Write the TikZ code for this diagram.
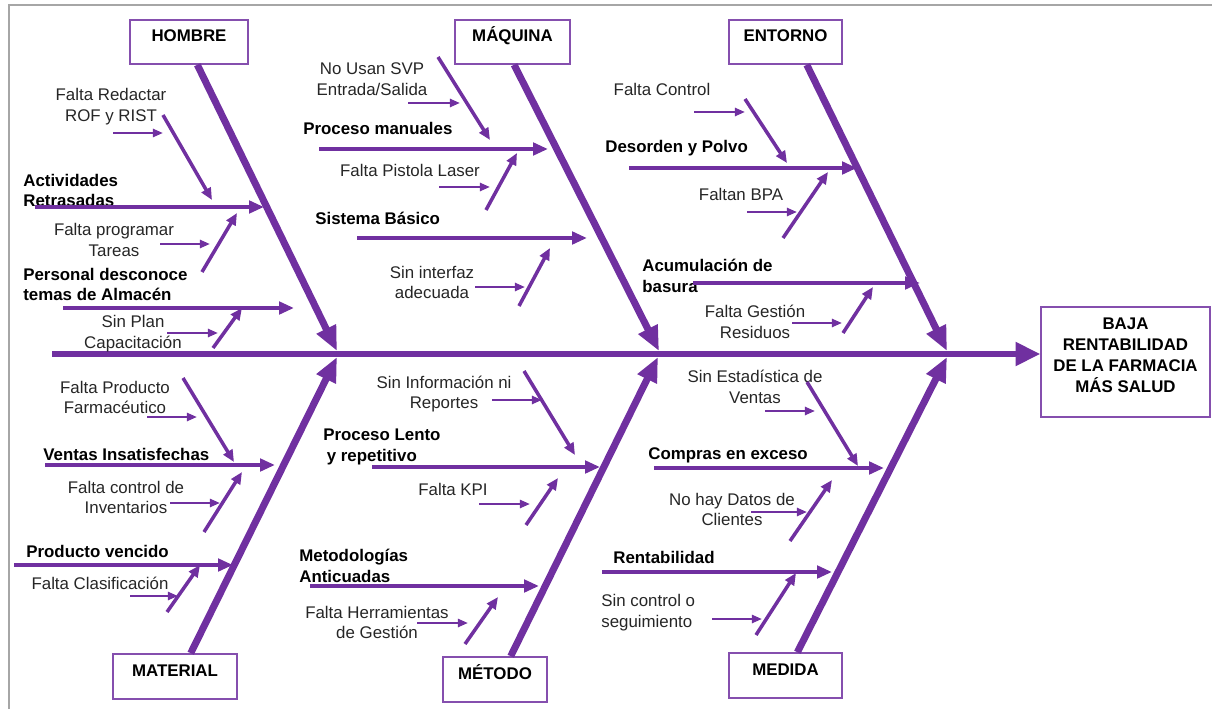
\documentclass[tikz,border=0pt]{standalone}
\usepackage{fontspec}
\setmainfont{Liberation Sans}
\usetikzlibrary{arrows.meta}
\definecolor{violeta}{HTML}{7030A0}

\begin{document}
\begin{tikzpicture}[x=0.02cm, y=-0.02cm,
		font=\fontsize{9.6}{11.9}\selectfont,
		catbox/.style={rectangle, draw=violeta!85, line width=0.9pt, minimum height=0.88cm,
			inner sep=0pt, font=\fontsize{9.6}{11.9}\selectfont\bfseries, text height=7pt, text depth=7pt},
		effbox/.style={rectangle, draw=violeta!85, line width=0.9pt, minimum width=3.38cm,
			minimum height=2.2cm},
		efftxt/.style={inner sep=0pt, align=center, font=\fontsize{9.6}{11.9}\selectfont\bfseries},
		lbl/.style={inner sep=0pt, align=center, text=black!85},
		blbl/.style={inner sep=0pt, anchor=west, align=left, font=\fontsize{9.6}{11.9}\selectfont\bfseries},
		spine/.style={violeta, line width=3.1pt, -{Triangle[length=14pt,width=13pt]}},
		bone/.style={violeta, line width=4pt, -{Triangle[length=14pt,width=11.5pt]}},
		cause/.style={violeta, line width=2.5pt, -{Triangle[length=8.5pt,width=7pt]}},
		sub/.style={violeta, line width=2pt, -{Triangle[length=6.8pt,width=5.8pt]}},
		feed/.style={violeta, line width=1.4pt, -{Triangle[length=5.8pt,width=4.6pt]}}]

	\useasboundingbox (0,0) rectangle (1212,709);
	\draw[gray!70, line width=1.1pt] (9,709) -- (9,5) -- (1212,5);

	% categorias y efecto
	\node[catbox, minimum width=2.36cm] (hombre) at (189,42) {HOMBRE};
	\node[catbox, minimum width=2.30cm] (maquina) at (512.5,42) {MÁQUINA};
	\node[catbox, minimum width=2.26cm] (entorno) at (785.5,42) {ENTORNO};
	\node[catbox, minimum width=2.48cm, minimum height=0.9cm] (material) at (175,676.5) {MATERIAL};
	\node[catbox, minimum width=2.08cm, minimum height=0.9cm] (metodo) at (495,679.5) {MÉTODO};
	\node[catbox, minimum width=2.26cm, minimum height=0.9cm] (medida) at (785.5,675.5) {MEDIDA};
	\node[effbox] (efecto) at (1125.5,362) {};
	\node[efftxt] (efecto-txt) at (1125.5,355) {BAJA\\RENTABILIDAD\\DE LA FARMACIA\\MÁS SALUD};

	% espina
	\coordinate (s0) at (52,354);
	\draw[spine] (s0) -- (s0 -| efecto.west);

	\coordinate (hombre-t) at (337,351);
	\coordinate (maquina-t) at (659,351);
	\coordinate (entorno-t) at (947,351);
	\coordinate (material-t) at (337,357);
	\coordinate (metodo-t) at (658,357);
	\coordinate (medida-t) at (947,357);
	\draw[bone] (hombre.-70) -- (hombre-t);
	\draw[bone] (maquina.-86) -- (maquina-t);
	\draw[bone] (entorno.-47) -- (entorno-t);
	\draw[bone] (material.56) -- (material-t);
	\draw[bone] (metodo.56) -- (metodo-t);
	\draw[bone] (medida.63) -- (medida-t);

	% HOMBRE
	\node[blbl] (actv) at (23,190.5) {Actividades\\Retrasadas};
	\coordinate (actv-a) at (35,207); \coordinate (actv-b) at (264,207);
	\draw[cause] (actv-a) -- (actv-b);
	\node[blbl] (pers) at (23,284.5) {Personal desconoce\\temas de Almacén};
	\coordinate (pers-a) at (63,308); \coordinate (pers-b) at (294,308);
	\draw[cause] (pers-a) -- (pers-b);
	\node[lbl] (rof) at (111,106.5) {Falta Redactar\\ROF y RIST};
	\coordinate (rof-a) at (113,133); \coordinate (rof-b) at (163,133);
	\coordinate (rof-c) at (163,115); \coordinate (rof-d) at (212,200);
	\draw[feed] (rof-a) -- (rof-b);
	\draw[sub] (rof-c) -- (rof-d);
	\node[lbl] (prog) at (114,240) {Falta programar\\Tareas};
	\coordinate (prog-a) at (160,244); \coordinate (prog-b) at (210,244);
	\coordinate (prog-c) at (202,272); \coordinate (prog-d) at (237,213);
	\draw[feed] (prog-a) -- (prog-b);
	\draw[sub] (prog-c) -- (prog-d);
	\node[lbl] (plan) at (133,334) {Sin Plan\\Capacitación};
	\coordinate (plan-a) at (167,333); \coordinate (plan-b) at (218,333);
	\coordinate (plan-c) at (213,348); \coordinate (plan-d) at (242,308);
	\draw[feed] (plan-a) -- (plan-b);
	\draw[sub] (plan-c) -- (plan-d);

	% MAQUINA
	\node[lbl] (svp) at (372,79) {No Usan SVP\\Entrada/Salida};
	\coordinate (svp-a) at (408,103); \coordinate (svp-b) at (460,103);
	\coordinate (svp-c) at (438,57); \coordinate (svp-d) at (490,140);
	\draw[feed] (svp-a) -- (svp-b);
	\draw[sub] (svp-c) -- (svp-d);
	\node[blbl] (manu) at (303,128) {Proceso manuales};
	\coordinate (manu-a) at (319,149); \coordinate (manu-b) at (548,149);
	\draw[cause] (manu-a) -- (manu-b);
	\node[lbl] (pist) at (410,170) {Falta Pistola Laser};
	\coordinate (pist-a) at (439,187); \coordinate (pist-b) at (490,187);
	\coordinate (pist-c) at (486,210); \coordinate (pist-d) at (517,153);
	\draw[feed] (pist-a) -- (pist-b);
	\draw[sub] (pist-c) -- (pist-d);
	\node[blbl] (sist) at (315,218) {Sistema Básico};
	\coordinate (sist-a) at (357,238); \coordinate (sist-b) at (587,238);
	\draw[cause] (sist-a) -- (sist-b);
	\node[lbl] (intf) at (432,282.5) {Sin interfaz\\adecuada};
	\coordinate (intf-a) at (475,287); \coordinate (intf-b) at (525,287);
	\coordinate (intf-c) at (519,306); \coordinate (intf-d) at (550,248);
	\draw[feed] (intf-a) -- (intf-b);
	\draw[sub] (intf-c) -- (intf-d);

	% ENTORNO
	\node[lbl] (ctrl) at (662,89) {Falta Control};
	\coordinate (ctrl-a) at (694,112); \coordinate (ctrl-b) at (745,112);
	\coordinate (ctrl-c) at (745,99); \coordinate (ctrl-d) at (787,163);
	\draw[feed] (ctrl-a) -- (ctrl-b);
	\draw[sub] (ctrl-c) -- (ctrl-d);
	\node[blbl] (deso) at (605,148) {Desorden y Polvo};
	\coordinate (deso-a) at (629,168); \coordinate (deso-b) at (857,168);
	\draw[cause] (deso-a) -- (deso-b);
	\node[lbl] (bpa) at (741,194) {Faltan BPA};
	\coordinate (bpa-a) at (747,212); \coordinate (bpa-b) at (797,212);
	\coordinate (bpa-c) at (783,238); \coordinate (bpa-d) at (828,172);
	\draw[feed] (bpa-a) -- (bpa-b);
	\draw[sub] (bpa-c) -- (bpa-d);
	\node[blbl] (basu) at (642,275.5) {Acumulación de\\basura};
	\coordinate (basu-a) at (693,283); \coordinate (basu-b) at (920,283);
	\draw[cause] (basu-a) -- (basu-b);
	\node[lbl] (resi) at (755,322) {Falta Gestión\\Residuos};
	\coordinate (resi-a) at (792,323); \coordinate (resi-b) at (842,323);
	\coordinate (resi-c) at (843,333); \coordinate (resi-d) at (873,287);
	\draw[feed] (resi-a) -- (resi-b);
	\draw[sub] (resi-c) -- (resi-d);

	% MATERIAL
	\node[lbl] (farm) at (115,397.5) {Falta Producto\\Farmacéutico};
	\coordinate (farm-a) at (147,417); \coordinate (farm-b) at (197,417);
	\coordinate (farm-c) at (183,378); \coordinate (farm-d) at (234,462);
	\draw[feed] (farm-a) -- (farm-b);
	\draw[sub] (farm-c) -- (farm-d);
	\node[blbl] (vent) at (43,454) {Ventas Insatisfechas};
	\coordinate (vent-a) at (45,465); \coordinate (vent-b) at (275,465);
	\draw[cause] (vent-a) -- (vent-b);
	\node[lbl] (inve) at (126,497.5) {Falta control de\\Inventarios};
	\coordinate (inve-a) at (170,503); \coordinate (inve-b) at (220,503);
	\coordinate (inve-c) at (204,532); \coordinate (inve-d) at (242,472);
	\draw[feed] (inve-a) -- (inve-b);
	\draw[sub] (inve-c) -- (inve-d);
	\node[blbl] (venc) at (26,551) {Producto vencido};
	\coordinate (venc-a) at (14,565); \coordinate (venc-b) at (233,565);
	\draw[cause] (venc-a) -- (venc-b);
	\node[lbl] (clas) at (100,583) {Falta Clasificación};
	\coordinate (clas-a) at (130,596); \coordinate (clas-b) at (178,596);
	\coordinate (clas-c) at (167,612); \coordinate (clas-d) at (200,565);
	\draw[feed] (clas-a) -- (clas-b);
	\draw[sub] (clas-c) -- (clas-d);

	% METODO
	\node[lbl] (repo) at (444,394) {Sin Información ni\\Reportes};
	\coordinate (repo-a) at (492,400); \coordinate (repo-b) at (542,400);
	\coordinate (repo-c) at (524,371); \coordinate (repo-d) at (575,455);
	\draw[feed] (repo-a) -- (repo-b);
	\draw[sub] (repo-c) -- (repo-d);
	\node[blbl] (lent) at (323,447) {Proceso Lento\\\hspace{2pt}y repetitivo};
	\coordinate (lent-a) at (372,467); \coordinate (lent-b) at (600,467);
	\draw[cause] (lent-a) -- (lent-b);
	\node[lbl] (kpi) at (453,489) {Falta KPI};
	\coordinate (kpi-a) at (479,504); \coordinate (kpi-b) at (530,504);
	\coordinate (kpi-c) at (526,525); \coordinate (kpi-d) at (558,478);
	\draw[feed] (kpi-a) -- (kpi-b);
	\draw[sub] (kpi-c) -- (kpi-d);
	\node[blbl] (meto) at (299,565.5) {Metodologías\\Anticuadas};
	\coordinate (meto-a) at (310,586); \coordinate (meto-b) at (539,586);
	\draw[cause] (meto-a) -- (meto-b);
	\node[lbl] (herr) at (377,622.5) {Falta Herramientas\\de Gestión};
	\coordinate (herr-a) at (417,623); \coordinate (herr-b) at (468,623);
	\coordinate (herr-c) at (465,644); \coordinate (herr-d) at (498,597);
	\draw[feed] (herr-a) -- (herr-b);
	\draw[sub] (herr-c) -- (herr-d);

	% MEDIDA
	\node[lbl] (esta) at (755,386.5) {Sin Estadística de\\Ventas};
	\coordinate (esta-a) at (765,411); \coordinate (esta-b) at (815,411);
	\coordinate (esta-c) at (807,382); \coordinate (esta-d) at (858,466);
	\draw[feed] (esta-a) -- (esta-b);
	\draw[sub] (esta-c) -- (esta-d);
	\node[blbl] (comp) at (648,455) {Compras en exceso};
	\coordinate (comp-a) at (654,468); \coordinate (comp-b) at (884,468);
	\draw[cause] (comp-a) -- (comp-b);
	\node[lbl] (clie) at (732,509.5) {No hay Datos de\\Clientes};
	\coordinate (clie-a) at (751,512); \coordinate (clie-b) at (807,512);
	\coordinate (clie-c) at (790,541); \coordinate (clie-d) at (832,480);
	\draw[feed] (clie-a) -- (clie-b);
	\draw[sub] (clie-c) -- (clie-d);
	\node[blbl] (rent) at (613,557) {Rentabilidad};
	\coordinate (rent-a) at (602,572); \coordinate (rent-b) at (832,572);
	\draw[cause] (rent-a) -- (rent-b);
	\node[lbl, anchor=west, align=left] (segu) at (601,612.5) {Sin control o\\seguimiento};
	\coordinate (segu-a) at (712,619); \coordinate (segu-b) at (762,619);
	\coordinate (segu-c) at (756,635); \coordinate (segu-d) at (796,573);
	\draw[feed] (segu-a) -- (segu-b);
	\draw[sub] (segu-c) -- (segu-d);

\end{tikzpicture}
\end{document}
